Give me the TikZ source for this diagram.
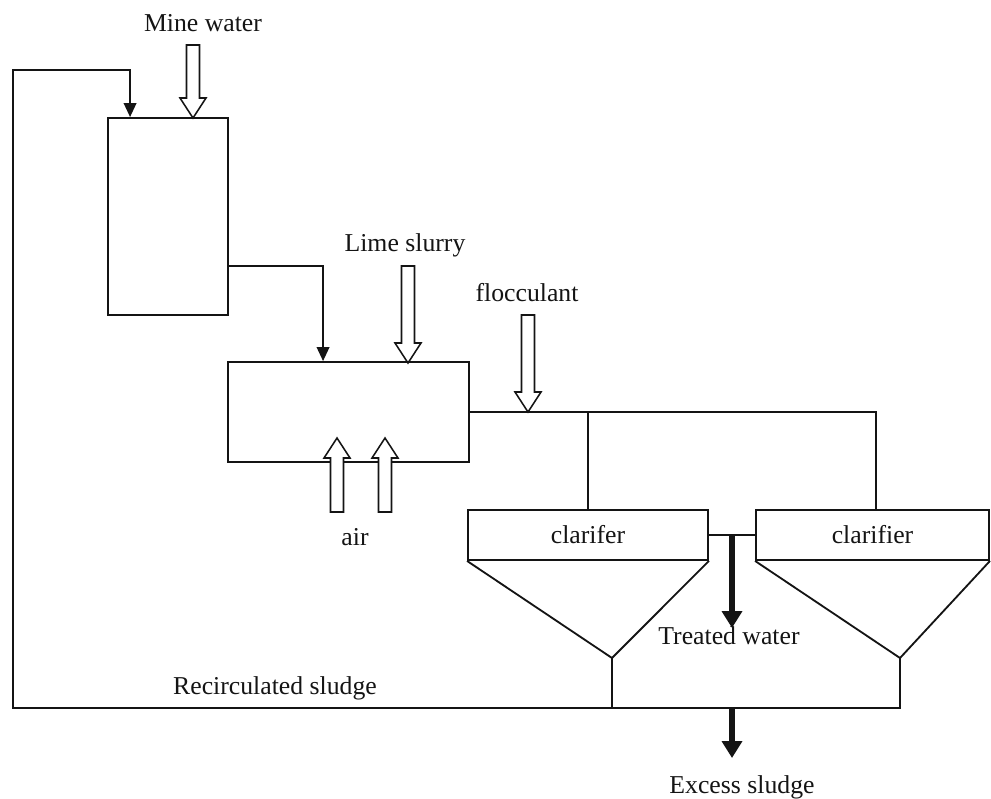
\documentclass[tikz,border=0pt]{standalone}
\usepackage{fontspec}
\setmainfont{Liberation Serif}
\usetikzlibrary{calc,arrows.meta,positioning}
\definecolor{plantInk}{RGB}{20,20,20}
\tikzset{
  pipe/.style={draw=plantInk, line width=1.3pt},
  tank/.style={draw=plantInk, line width=1.3pt, inner sep=0pt, fill=white},
  feed/.style={draw=plantInk, line width=1.1pt, fill=white, line join=miter},
  flow/.style={draw=plantInk, line width=4.3pt, -{Triangle[length=12pt,width=14pt]}},
  lbl/.style={text=plantInk, font=\fontsize{18.3}{21}\selectfont},
}
% hollow feed arrow: x, tail y, tip y
\newcommand{\feedarrow}[3]{%
  \draw[feed] ({#1-6.5},#2) -- ({#1+6.5},#2) -- ({#1+6.5},{#3-20*sign(#3-#2)})
    -- ({#1+13},{#3-20*sign(#3-#2)}) -- (#1,#3) -- ({#1-13},{#3-20*sign(#3-#2)})
    -- ({#1-6.5},{#3-20*sign(#3-#2)}) -- cycle;}

\begin{document}
\begin{tikzpicture}[x=0.025cm,y=-0.025cm]
\useasboundingbox (0,0) rectangle (991,798);

% tanks
\node[tank, minimum width=3cm, minimum height=4.925cm] (mixtank) at (168,216.5) {};
\node[tank, minimum width=6.025cm, minimum height=2.5cm] (reactor) at (348.5,412) {};
\node[tank, lbl, minimum width=6cm, minimum height=1.25cm] (clarA) at (588,535) {clarifer};
\node[tank, lbl, minimum width=5.825cm, minimum height=1.25cm] (clarB) at (872.5,535) {clarifier};

% cones
\coordinate (apexA) at (612,658);
\coordinate (apexB) at (900,658);
\draw[pipe] (clarA.south west) -- (apexA) -- (clarA.south east);
\draw[pipe] (clarB.south west) -- (apexB) -- (clarB.south east);

% sludge return
\coordinate (returnL) at (13,708);
\coordinate (returnT) at (13,70);
\draw[pipe] (apexA) -- (apexA |- returnL);
\draw[pipe, -{Triangle[length=10pt,width=9pt]}] (apexB) -- (apexB |- returnL) -- (returnL) -- (returnT)
  -| ($(mixtank.north west)+(23,0)$);

% pipes between units
\draw[pipe, -{Triangle[length=10pt,width=9pt]}] ($(mixtank.south east)+(0,-50)$) -| ($(reactor.north west)+(96,0)$);
\draw[pipe] (reactor.east) -| ($(clarB.north)+(3.5,0)$);
\draw[pipe] (clarA.north) -- (clarA.north |- reactor.east);
\draw[pipe] (clarA.east) -- (clarB.west);

% outlets
\coordinate (twTop) at ($(clarA.east)!0.5!(clarB.west)$);
\coordinate (twEnd) at ($(twTop)+(0,93)$);
\coordinate (exTop) at (twTop |- returnL);
\coordinate (exEnd) at ($(exTop)+(0,50)$);
\draw[flow] (twTop) -- (twEnd);
\draw[flow] (exTop) -- (exEnd);

% feeds
\feedarrow{193}{45}{118}
\feedarrow{408}{266}{363}
\feedarrow{528}{315}{412}
\feedarrow{337}{512}{438}
\feedarrow{385}{512}{438}

% labels
\node[lbl] (mineLbl) at (203,23) {Mine water};
\node[lbl] (limeLbl) at (405,245) {Lime slurry};
\node[lbl] (flocLbl) at (527,293) {flocculant};
\node[lbl] (airLbl) at (355,537) {air};
\node[lbl] (twLbl) at (729,636) {Treated water};
\node[lbl] (recLbl) at (275,688) {Recirculated sludge};
\node[lbl] (exLbl) at (742,787) {Excess sludge};
\end{tikzpicture}
\end{document}
